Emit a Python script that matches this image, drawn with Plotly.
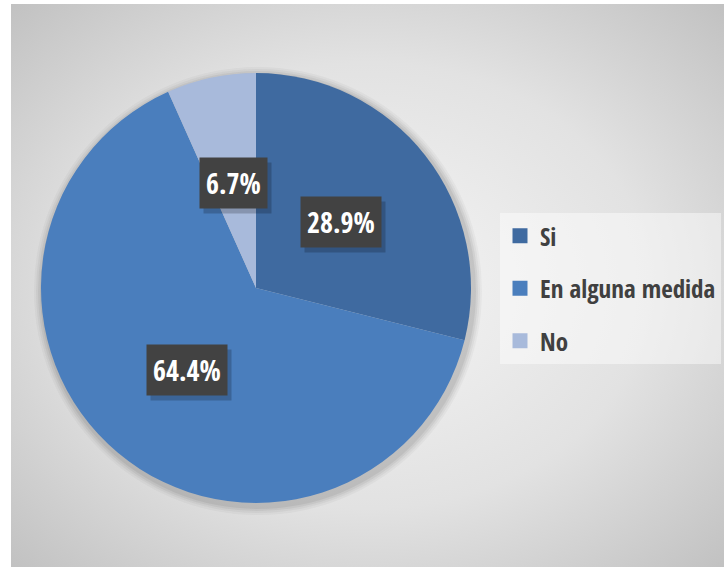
import base64
import math
import plotly.graph_objects as go

# ---- data ----
categories = ["Si", "En alguna medida", "No"]
values = [28.9, 64.4, 6.7]
colors = ["#3f6aa0", "#4a7ebd", "#a8badb"]
label_texts = ["28.9%", "64.4%", "6.7%"]

W, H = 724, 567
FONT = "Open Sans Condensed, Roboto Condensed, sans-serif"

# pie geometry (pixels)
cx, cy, R = 256, 288, 215

fig = go.Figure()

fig.add_trace(go.Pie(
    labels=categories, values=values, sort=False, direction="clockwise",
    rotation=0, marker=dict(colors=colors, line=dict(width=0)),
    textinfo="none", hoverinfo="label+percent", showlegend=False,
    domain=dict(x=[(cx - R) / W, (cx + R) / W],
                y=[(H - cy - R) / H, (H - cy + R) / H]),
))

# legend entries
for i, (cat, col) in enumerate(zip(categories, colors)):
    fig.add_trace(go.Scatter(
        x=[None], y=[None], mode="markers", name=f"<b>{cat}</b>",
        legendgroup=f"g{i}",
        marker=dict(symbol="square", size=15, color=col),
        showlegend=True, hoverinfo="skip",
    ))

# data labels at half radius of each slice
annotations = []
total = sum(values)
cum = 0.0
boxes = []
for v, t in zip(values, label_texts):
    mid = (cum + v / 2) / total * 2 * math.pi
    cum += v
    px = cx + 0.5 * R * math.sin(mid)
    py = cy - 0.5 * R * math.cos(mid)
    boxes.append((px, py, t))

for px, py, t in boxes:
    annotations.append(dict(
        x=(px + 4) / W, y=1 - (py + 5) / H, xref="paper", yref="paper",
        xanchor="center", yanchor="middle",
        text=f"<b>{t}</b>", showarrow=False, bgcolor="rgba(0,0,0,0.2)",
        font=dict(family=FONT, size=28, color="rgba(0,0,0,0)"),
        borderpad=6,
    ))
for px, py, t in boxes:
    annotations.append(dict(
        x=px / W, y=1 - py / H, xref="paper", yref="paper",
        xanchor="center", yanchor="middle",
        text=f"<b>{t}</b>", showarrow=False, bgcolor="#424242",
        font=dict(family=FONT, size=28, color="white"),
        borderpad=6,
    ))

svg = (
    "<svg xmlns='http://www.w3.org/2000/svg' width='713' height='563' "
    "preserveAspectRatio='none' viewBox='0 0 713 563'>"
    "<defs><radialGradient id='g' cx='50%' cy='50%' r='72%'>"
    "<stop offset='0' stop-color='#f5f5f5'/>"
    "<stop offset='0.55' stop-color='#e2e2e2'/>"
    "<stop offset='1' stop-color='#c0c0c0'/>"
    "</radialGradient></defs>"
    "<rect width='713' height='563' fill='url(#g)'/></svg>"
)
src = "data:image/svg+xml;base64," + base64.b64encode(svg.encode()).decode()

shapes = []
# soft shadow around the pie
for k, op in [(9, 0.03), (7, 0.04), (5, 0.05), (3, 0.06)]:
    shapes.append(dict(
        type="circle", xref="paper", yref="paper", layer="below",
        x0=(cx - R - k + 2) / W, x1=(cx + R + k + 2) / W,
        y0=1 - (cy + R + k + 3) / H, y1=1 - (cy - R - k + 3) / H,
        fillcolor=f"rgba(0,0,0,{op})", line=dict(width=0),
    ))

fig.update_layout(
    width=W, height=H, margin=dict(l=0, r=0, t=0, b=0, autoexpand=False),
    paper_bgcolor="white", plot_bgcolor="rgba(0,0,0,0)",
    xaxis=dict(visible=False), yaxis=dict(visible=False),
    images=[dict(source=src, xref="paper", yref="paper",
                 x=11 / W, y=1 - 4 / H, sizex=(W - 11) / W, sizey=(H - 4) / H,
                 xanchor="left", yanchor="top", sizing="stretch",
                 layer="below")],
    shapes=shapes,
    annotations=annotations,
    legend=dict(
        x=500 / W, y=1 - 213 / H, xanchor="left", yanchor="top",
        bgcolor="rgba(255,255,255,0.45)", traceorder="grouped",
        tracegroupgap=17, font=dict(family=FONT, size=25, color="#404040"),
        itemclick=False, itemdoubleclick=False,
    ),
    showlegend=True,
)

fig.write_html("out.html")
